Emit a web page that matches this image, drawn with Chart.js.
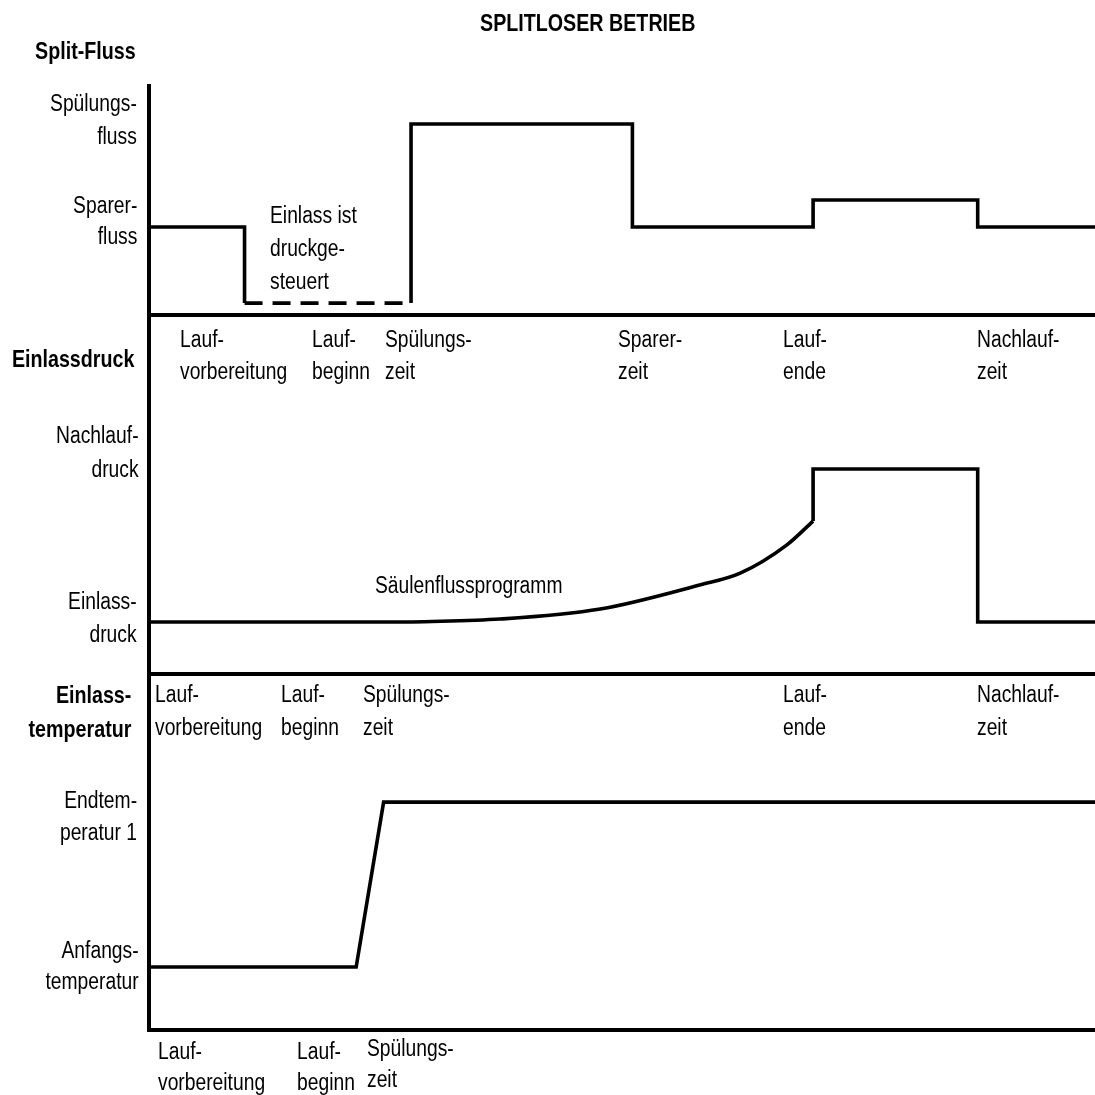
<!DOCTYPE html>
<html>
<head>
<meta charset="utf-8">
<script src="https://cdn.jsdelivr.net/npm/chart.js@4.4.0/dist/chart.umd.min.js"></script>
<style>
  body { margin: 0; background: #fff; }
  #wrap { position: relative; width: 1095px; height: 1095px; overflow: hidden; }
  #wrap canvas { position: absolute; left: 0; top: 0; }
  .lbl {
    position: absolute; white-space: pre; color: #000;
    font-family: "Liberation Sans", Arial, sans-serif;
    font-size: 23.5px; line-height: 33px;
    transform: scaleX(0.82); transform-origin: left center;
  }
  .r { text-align: right; transform-origin: right center; }
  .b { font-weight: bold; font-size: 24px; }
</style>
</head>
<body>
<div id="wrap">
  <canvas id="c1" width="1095" height="1095"></canvas>
  <canvas id="c2" width="1095" height="1095"></canvas>
  <canvas id="c3" width="1095" height="1095"></canvas>
</div>
<script>
// time axis is relative (0 = Laufvorbereitung, 100 = right edge), levels are relative 0..100 per panel

// Split-Fluss
var splitTime = [0, 10.1, 10.1, 27.7, 27.7, 51.1, 51.1, 70.2, 70.2, 87.6, 87.6, 100];
var splitFlow = [38.4, 38.4, 5.2, 5.2, 83.4, 83.4, 38.4, 38.4, 50.2, 50.2, 38.4, 38.4];
var pressureControlledLevel = 5.2;   // dashed part ("Einlass ist druckgesteuert")

// Einlassdruck: steps + Säulenflussprogramm curve
var pressTime = [0, 27.8, 70.2, 70.2, 87.6, 87.6, 100];
var pressValue = [14.5, 14.5, 42.6, 57.1, 57.1, 14.5, 14.5];
var rampTime = [27.8, 37.1, 47.7, 58.2, 62.5, 67.4, 70.2];
var rampValue = [14.5, 15.3, 18.1, 24.8, 28.1, 35.9, 42.6];

// Einlasstemperatur
var tempTime = [0, 21.9, 24.8, 100];
var tempValue = [17.7, 17.7, 64.0, 64.0];

// texts
var chartTitle = "SPLITLOSER BETRIEB";
var panelTitles = ["Split-Fluss", "Einlassdruck", "Einlass-\ntemperatur"];
var flowLevels = ["Spülungs-\nfluss", "Sparer-\nfluss"];
var pressLevels = ["Nachlauf-\ndruck", "Einlass-\ndruck"];
var tempLevels = ["Endtem-\nperatur 1", "Anfangs-\ntemperatur"];
var events1 = ["Lauf-\nvorbereitung", "Lauf-\nbeginn", "Spülungs-\nzeit", "Sparer-\nzeit", "Lauf-\nende", "Nachlauf-\nzeit"];
var events2 = ["Lauf-\nvorbereitung", "Lauf-\nbeginn", "Spülungs-\nzeit", "Lauf-\nende", "Nachlauf-\nzeit"];
var events3 = ["Lauf-\nvorbereitung", "Lauf-\nbeginn", "Spülungs-\nzeit"];
var notes = ["Einlass ist\ndruckge-\nsteuert", "Säulenflussprogramm"];

function pts(xs, ys) {
    return xs.map(function (x, i) { return {x: x, y: ys[i]}; });
}

function panel(id, top, bottom, datasets) {
    var axis = {
        grid: {display: false, drawTicks: false},
        ticks: {display: false},
        border: {display: true, color: '#000', width: 4}
    };
    return new Chart(document.getElementById(id), {
        type: 'line',
        data: {datasets: datasets},
        options: {
            responsive: false,
            animation: false,
            events: [],
            layout: {padding: {left: 149, right: 0, top: top, bottom: 1095 - bottom}},
            plugins: {legend: {display: false}, tooltip: {enabled: false}},
            elements: {
                point: {radius: 0},
                line: {borderColor: '#000', borderWidth: 3.6, tension: 0, borderJoinStyle: 'miter', borderCapStyle: 'butt', fill: false}
            },
            scales: {
                x: Object.assign({type: 'linear', min: 0, max: 100}, axis),
                y: Object.assign({type: 'linear', min: 0, max: 100}, axis)
            }
        }
    });
}

panel('c1', 86, 315, [{
    data: pts(splitTime, splitFlow),
    segment: {
        borderDash: function (ctx) {
            return (ctx.p0.parsed.y === pressureControlledLevel && ctx.p1.parsed.y === pressureControlledLevel) ? [18, 10] : undefined;
        }
    }
}]);

panel('c2', 315, 674, [
    {data: pts(pressTime.slice(0, 2), pressValue.slice(0, 2))},
    {data: pts(rampTime, rampValue), cubicInterpolationMode: 'monotone'},
    {data: pts(pressTime.slice(2), pressValue.slice(2))}
]);

panel('c3', 674, 1030, [{data: pts(tempTime, tempValue)}]);

// labels (HTML text)
var wrap = document.getElementById('wrap');
function place(text, x, yc, opt) {
    opt = opt || {};
    var d = document.createElement('div');
    d.className = 'lbl' + (opt.bold ? ' b' : '') + (opt.right ? ' r' : '');
    d.textContent = text;
    var lh = opt.lh || 33;
    d.style.lineHeight = lh + 'px';
    d.style.top = (yc - lh / 2) + 'px';
    if (opt.right) {
        d.style.right = (1095 - x) + 'px';
    } else {
        d.style.left = x + 'px';
    }
    wrap.appendChild(d);
}

place(chartTitle, 480, 22, {bold: true});
place(panelTitles[0], 136, 50, {bold: true, right: true});
place(panelTitles[1], 134, 358, {bold: true, right: true});
place(panelTitles[2], 131, 695, {bold: true, right: true, lh: 34});

place(flowLevels[0], 137, 103, {right: true});
place(flowLevels[1], 137, 205, {right: true, lh: 31});
place(pressLevels[0], 139, 435, {right: true, lh: 34});
place(pressLevels[1], 137, 601, {right: true, lh: 33});
place(tempLevels[0], 137, 800, {right: true, lh: 32});
place(tempLevels[1], 139, 950, {right: true, lh: 31});

var ex1 = [180, 312, 385, 618, 783, 977];
events1.forEach(function (t, i) { place(t, ex1[i], 339, {lh: 32}); });
var ex2 = [155, 281, 363, 783, 977];
events2.forEach(function (t, i) { place(t, ex2[i], 694, {lh: 33}); });
var ex3 = [158, 297, 367];
events3.forEach(function (t, i) { place(t, ex3[i], i === 2 ? 1048 : 1051, {lh: 31}); });

place(notes[0], 270, 215, {lh: 33});
place(notes[1], 375, 585);
</script>
</body>
</html>
